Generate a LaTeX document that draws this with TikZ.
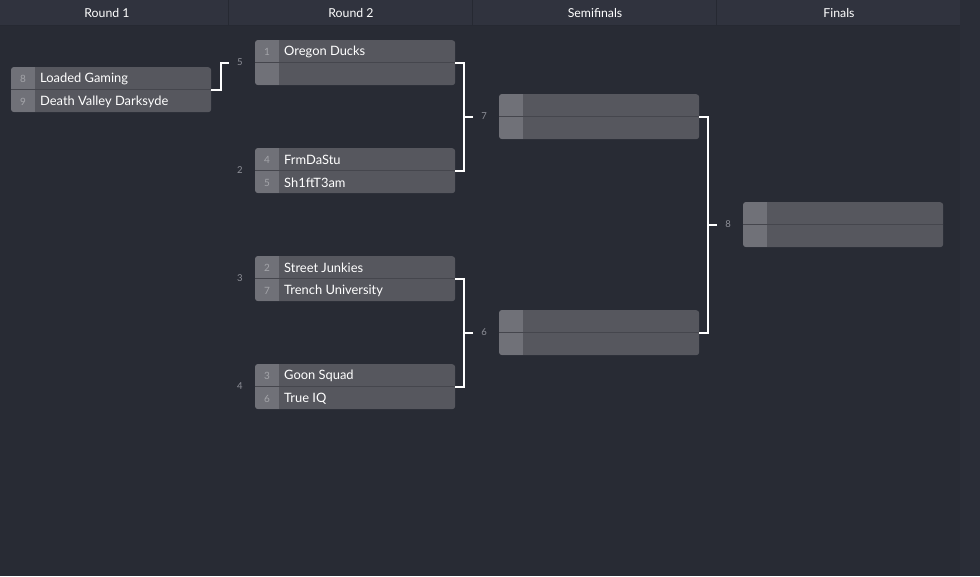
\documentclass[tikz,border=0pt]{standalone}
\usepackage{fontspec}
\setmainfont{Lato}
\usetikzlibrary{calc}
\definecolor{bgc}{HTML}{282B34}
\definecolor{bgr}{HTML}{2A2D37}
\definecolor{hdr}{HTML}{30333E}
\definecolor{hdrline}{HTML}{262932}
\definecolor{boxc}{HTML}{56575E}
\definecolor{seedc}{HTML}{707178}
\definecolor{divc}{HTML}{45464D}
\definecolor{seedtxt}{HTML}{A4A5AA}
\definecolor{lbl}{HTML}{8E9098}
\tikzset{
  matchbox/.style={draw=none, fill=boxc, rounded corners=3pt, minimum width=200pt, minimum height=45pt, anchor=north west, inner sep=0pt},
  hdrtxt/.style={text=white, font=\fontsize{12.3}{14}\selectfont, anchor=center},
  nametxt/.style={text=white, font=\fontsize{12.9}{14}\selectfont, anchor=west, inner sep=0pt, yshift=-1pt},
  seedtxtst/.style={text=seedtxt, font=\fontsize{10}{11}\selectfont, anchor=center, inner sep=0pt},
  lbltxt/.style={text=lbl, font=\fontsize{9.5}{11}\selectfont, anchor=center, inner sep=0pt},
  conn/.style={draw=white, line width=2pt},
}
\newcommand{\matchat}[3]{%
  \node[matchbox] (#1) at (#2,#3) {};
  \begin{scope}
    \clip[rounded corners=3pt] (#2,#3) rectangle ++(200,45);
    \fill[seedc] (#2,#3) rectangle ++(24,45);
  \end{scope}
  \draw[divc, line width=1pt] (#2,#3+22.5) -- ++(200,0);
}
\begin{document}
\begin{tikzpicture}[x=1pt,y=-1pt]
\useasboundingbox (0,0) rectangle (980,576);
\fill[bgc] (0,0) rectangle (980,576);
\fill[bgr] (960,0) rectangle (980,576);
\fill[hdr] (0,0) rectangle (960,25);
\draw[hdrline, line width=1pt] (0,25) -- (960,25);
\foreach \xx in {228.5,472.5,716.5} \draw[hdrline, line width=1pt] (\xx,0) -- (\xx,25);
\node[hdrtxt] (h1) at (107,13) {Round 1};
\node[hdrtxt] (h2) at (351,13) {Round 2};
\node[hdrtxt] (h3) at (595,13) {Semifinals};
\node[hdrtxt] (h4) at (839,13) {Finals};

% matches
\matchat{r1}{11}{67}
\matchat{mA}{255}{40}
\matchat{mB}{255}{148}
\matchat{mC}{255}{256}
\matchat{mD}{255}{364}
\matchat{sA}{499}{94}
\matchat{sB}{499}{310}
\matchat{fA}{743}{202}

% texts
\node[seedtxtst] (r1s1) at (23,78.5) {8};
\node[nametxt] (r1t1) at (40,78) {Loaded Gaming};
\node[seedtxtst] (r1s2) at (23,101.5) {9};
\node[nametxt] (r1t2) at (40,101) {Death Valley Darksyde};

\node[seedtxtst] (mAs1) at (267,51.5) {1};
\node[nametxt] (mAt1) at (284,51) {Oregon Ducks};

\node[seedtxtst] (mBs1) at (267,159.5) {4};
\node[nametxt] (mBt1) at (284,159) {FrmDaStu};
\node[seedtxtst] (mBs2) at (267,182.5) {5};
\node[nametxt] (mBt2) at (284,182) {Sh1ftT3am};

\node[seedtxtst] (mCs1) at (267,267.5) {2};
\node[nametxt] (mCt1) at (284,267) {Street Junkies};
\node[seedtxtst] (mCs2) at (267,290.5) {7};
\node[nametxt] (mCt2) at (284,290) {Trench University};

\node[seedtxtst] (mDs1) at (267,375.5) {3};
\node[nametxt] (mDt1) at (284,375) {Goon Squad};
\node[seedtxtst] (mDs2) at (267,398.5) {6};
\node[nametxt] (mDt2) at (284,398) {True IQ};

% labels
\node[lbltxt] (l5) at (240,62) {5};
\node[lbltxt] (l2) at (240,170.5) {2};
\node[lbltxt] (l3) at (240,278.5) {3};
\node[lbltxt] (l4) at (240,386.5) {4};
\node[lbltxt] (l7) at (484,116.5) {7};
\node[lbltxt] (l6) at (484,332.5) {6};
\node[lbltxt] (l8) at (728,224.5) {8};

% connectors
\coordinate (c5) at (229,62.5);
\draw[conn] (r1.east) -- ++(10,0) |- (c5);

\draw[conn] (mA.east) -- ++(9,0) |- (mB.east);
\coordinate (c7) at (473,116.5);
\draw[conn] (c7) -- ++(-9,0);

\draw[conn] (mC.east) -- ++(9,0) |- (mD.east);
\coordinate (c6) at (473,332.5);
\draw[conn] (c6) -- ++(-9,0);

\draw[conn] (sA.east) -- ++(9,0) |- (sB.east);
\coordinate (c8) at (717,224.5);
\draw[conn] (c8) -- ++(-9,0);
\end{tikzpicture}
\end{document}
